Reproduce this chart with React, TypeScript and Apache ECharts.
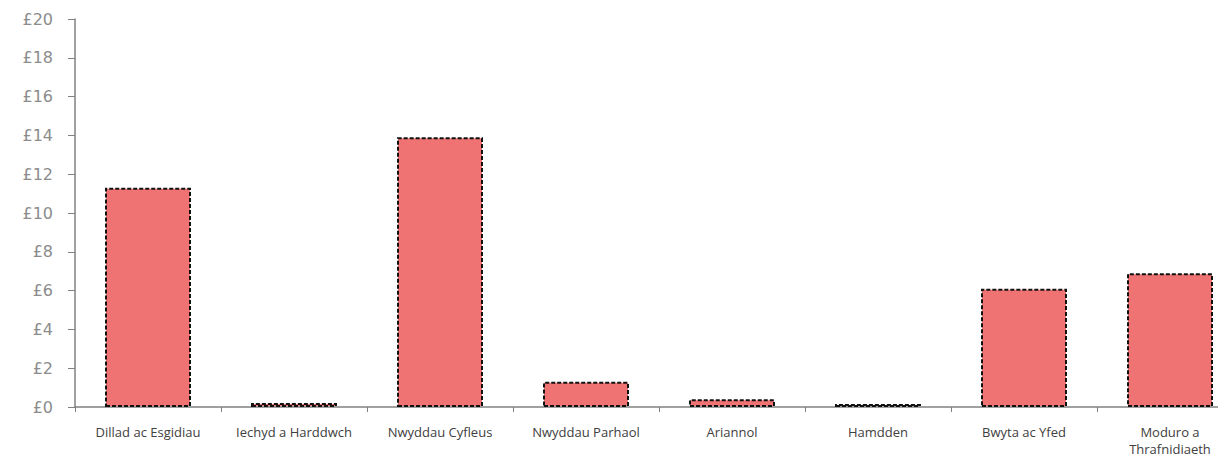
import React, { useEffect, useRef } from "react";
import * as echarts from "echarts";

const categories = [
  "Dillad ac Esgidiau",
  "Iechyd a Harddwch",
  "Nwyddau Cyfleus",
  "Nwyddau Parhaol",
  "Ariannol",
  "Hamdden",
  "Bwyta ac Yfed",
  "Moduro a\nThrafnidiaeth",
];
const values = [11.3, 0.2, 13.9, 1.3, 0.4, 0.15, 6.1, 6.9];
const yMin = 0;
const yMax = 20;
const yStep = 2;

export default function App() {
  const ref = useRef<HTMLDivElement>(null);
  useEffect(() => {
    if (!ref.current) return;
    const chart = echarts.init(ref.current, undefined, { renderer: "svg" });
    chart.setOption({
      animation: false,
      backgroundColor: "#ffffff",
      grid: { left: 75, top: 19, bottom: 54, right: 0, containLabel: false },
      xAxis: {
        type: "category",
        data: categories,
        axisLine: { lineStyle: { color: "#808080", width: 1.5 } },
        axisTick: { show: true, length: 5, lineStyle: { color: "#808080" } },
        axisLabel: {
          margin: 16,
          interval: 0,
          color: "#404040",
          fontFamily: "Open Sans",
          fontSize: 13,
          lineHeight: 17,
        },
      },
      yAxis: {
        type: "value",
        min: yMin,
        max: yMax,
        interval: yStep,
        splitLine: { show: false },
        axisLine: { show: true, lineStyle: { color: "#808080", width: 1.5 } },
        axisTick: { show: true, length: 7, lineStyle: { color: "#808080" } },
        axisLabel: {
          margin: 22,
          color: "#8c8c8c",
          fontFamily: "DejaVu Sans",
          fontSize: 16,
          formatter: (v: number) => "£" + v,
        },
      },
      series: [
        {
          type: "bar",
          data: values,
          barWidth: 86,
          itemStyle: {
            color: "#f07373",
            borderColor: "#111111",
            borderWidth: 2,
            borderType: [4, 2],
          },
        },
      ],
    });
    return () => chart.dispose();
  }, []);
  return (
    <div
      style={{
        position: "fixed",
        left: 0,
        top: 0,
        width: 1218,
        height: 461,
        overflow: "hidden",
        background: "#ffffff",
      }}
    >
      <div ref={ref} style={{ width: 1243, height: 461 }} />
    </div>
  );
}
